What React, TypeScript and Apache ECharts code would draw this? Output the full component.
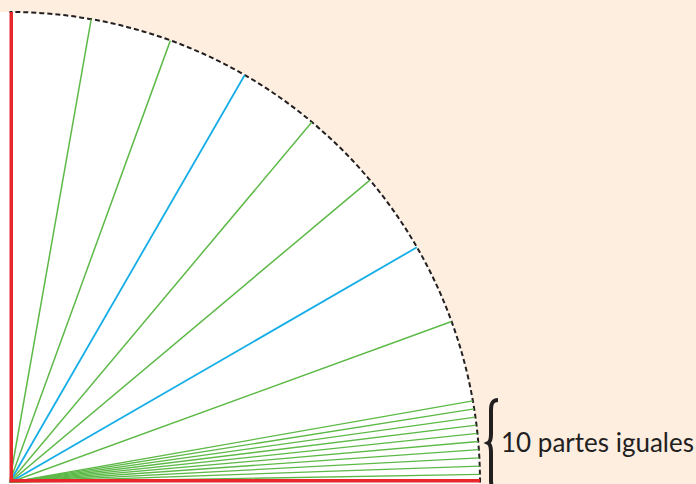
import React, { useEffect, useRef } from "react";
import * as echarts from "echarts";

// Ray angles in degrees (measured from the horizontal radius)
const redAngles = [0, 90];
const fineGreenAngles = [1, 2, 3, 4, 5, 6, 7, 8, 9, 10];
const greenAngles = [20, 40, 50, 70, 80];
const blueAngles = [30, 60];
const labelText = "10 partes iguales";

const BRACE =
  "M 10 0 C 4 0 3 4 3 10 L 3 34 C 3 40 2 42 0 43 C 2 44 3 46 3 52 L 3 80 C 3 86 4 90 10 90";

export default function App() {
  const ref = useRef<HTMLDivElement>(null);
  useEffect(() => {
    if (!ref.current) return;
    try {
      echarts.graphic.registerShape("brace", echarts.graphic.extendPath(BRACE, {}) as any);
    } catch (e) {}
    const chart = echarts.init(ref.current, null, { renderer: "svg" });
    const ray = (a: number, color: string, width: number, z: number) => ({
      type: "line",
      coordinateSystem: "polar",
      data: [
        [0, a],
        [1, a],
      ],
      symbol: "none",
      silent: true,
      clip: false,
      z,
      lineStyle: { color, width },
      emphasis: { disabled: true },
    });
    const series: any[] = [];
    fineGreenAngles.forEach((a) => series.push(ray(a, "#5db947", 1.3, 2)));
    greenAngles.forEach((a) => series.push(ray(a, "#5db947", 1.5, 2)));
    blueAngles.forEach((a) => series.push(ray(a, "#16aee6", 1.8, 3)));
    redAngles.forEach((a) => series.push(ray(a, "#e8262b", 7, 4)));
    chart.setOption({
      animation: false,
      backgroundColor: "#fdeee0",
      polar: { center: [9.5, 482.5], radius: 470.5 },
      angleAxis: {
        type: "value",
        min: 0,
        max: 90,
        interval: 90,
        startAngle: 0,
        endAngle: 90,
        clockwise: false,
        axisLine: { show: true, lineStyle: { color: "#231f20", width: 2, type: [5, 3] } },
        axisTick: { show: false },
        axisLabel: { show: false },
        splitLine: { show: false },
        splitArea: { show: true, areaStyle: { color: ["#ffffff"] } },
      },
      radiusAxis: {
        type: "value",
        min: 0,
        max: 1,
        axisLine: { show: false },
        axisTick: { show: false },
        axisLabel: { show: false },
        splitLine: { show: false },
      },
      series,
      graphic: [
        {
          type: "brace",
          x: 488,
          y: 400,
          scaleX: 1,
          scaleY: 1,
          style: { fill: "none", stroke: "#231f20", lineWidth: 4 },
        },
        {
          type: "text",
          x: 501,
          y: 442,
          style: {
            text: labelText,
            fill: "#231f20",
            font: "26px Lato",
            verticalAlign: "middle",
          },
        },
      ],
    });
    return () => chart.dispose();
  }, []);
  return <div ref={ref} style={{ width: 696, height: 484, position: "fixed", left: 0, top: 0 }} />;
}
